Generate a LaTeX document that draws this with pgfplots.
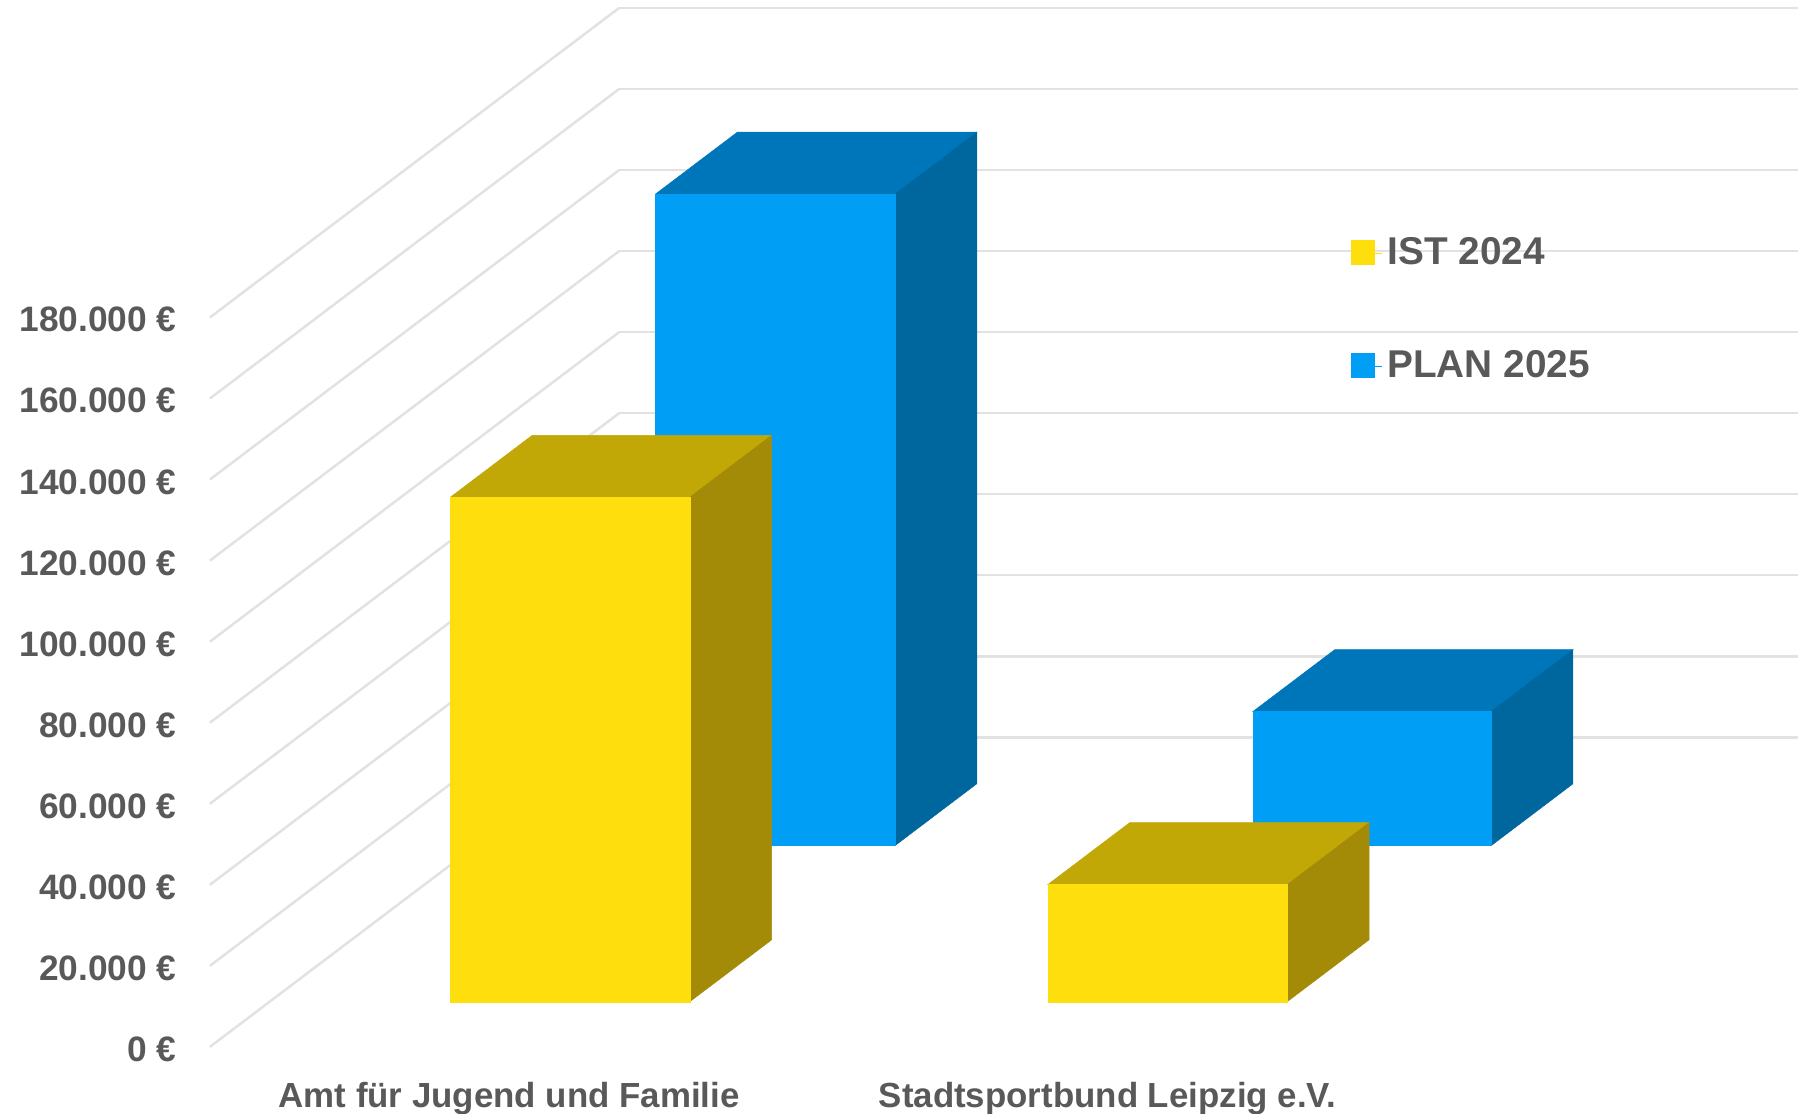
\documentclass[border=0pt]{standalone}
\usepackage{fontspec}
\setmainfont{Liberation Sans}
\usepackage{pgfplots}
\pgfplotsset{compat=1.18}

\definecolor{gridc}{HTML}{E2E2E2}
\definecolor{textc}{HTML}{595959}
\definecolor{yfront}{HTML}{FFDE0E}
\definecolor{ytop}{HTML}{C1A807}
\definecolor{yside}{HTML}{A48B07}
\definecolor{bfront}{HTML}{009EF5}
\definecolor{btop}{HTML}{0076BA}
\definecolor{bside}{HTML}{00669E}

% x0 x1 y0 y1 value front top side
\newcommand{\bargd}[8]{%
  \addplot3[fill=#7,draw=#7,line width=0.2pt,forget plot] coordinates {(#1,#3,#5) (#2,#3,#5) (#2,#4,#5) (#1,#4,#5)} --cycle;
  \addplot3[fill=#8,draw=#8,line width=0.2pt,forget plot] coordinates {(#2,#3,0) (#2,#4,0) (#2,#4,#5) (#2,#3,#5)} --cycle;
  \addplot3[fill=#6,draw=#6,line width=0.2pt,forget plot] coordinates {(#1,#3,0) (#2,#3,0) (#2,#3,#5) (#1,#3,#5)} --cycle;
}

\begin{document}
\begin{tikzpicture}
\useasboundingbox (0,0) rectangle (784pt,485.5pt);
\begin{axis}[
  at={(91.5pt,29pt)}, anchor=origin,
  x={(261pt,0pt)}, y={(17.85pt,13.5pt)}, z={(0pt,1.767pt)},
  xmin=0, xmax=1.969, ymin=0, ymax=10, zmin=0, zmax=180,
  clip=false,
  axis line style={draw=none},
  major tick length=0pt,
  xtick={0.5,1.5},
  xticklabels={Amt für Jugend und Familie,Stadtsportbund Leipzig e.V.},
  ytick=\empty,
  ztick={0,20,...,180},
  zticklabels={0 €,20.000 €,40.000 €,60.000 €,80.000 €,100.000 €,120.000 €,140.000 €,160.000 €,180.000 €},
  zmajorgrids=true,
  grid style={gridc,line width=1.1pt},
  ticklabel style={font=\bfseries,text=textc},
  xticklabel style={font=\fontsize{15.2}{18}\selectfont\bfseries,anchor=north,yshift=-12pt},
  zticklabel style={font=\fontsize{15.4}{18}\selectfont\bfseries,anchor=east,xshift=-11pt,yshift=-1pt},
  legend style={draw=none,fill=none,at={(0.714,0.788)},anchor=north west,
    font=\fontsize{16.9}{20}\selectfont\bfseries,text=textc,
    row sep=32pt,legend cell align=left},
  legend image code/.code={\fill[#1] (0pt,-5pt) rectangle (10pt,5.5pt); \path (0pt,0pt) -- (13.5pt,0pt);},
]
\addlegendimage{yfront}
\addlegendentry{IST 2024}
\addlegendimage{bfront}
\addlegendentry{PLAN 2025}

% PLAN 2025
\bargd{0.3}{0.7}{6.5}{8.5}{160.8}{bfront}{btop}{bside}
\bargd{1.298}{1.696}{6.5}{8.5}{33.1}{bfront}{btop}{bside}
% IST 2024
\bargd{0.302}{0.702}{1.46}{3.46}{124.5}{yfront}{ytop}{yside}
\bargd{1.3}{1.7}{1.46}{3.46}{28.9}{yfront}{ytop}{yside}
\end{axis}
\end{tikzpicture}
\end{document}
